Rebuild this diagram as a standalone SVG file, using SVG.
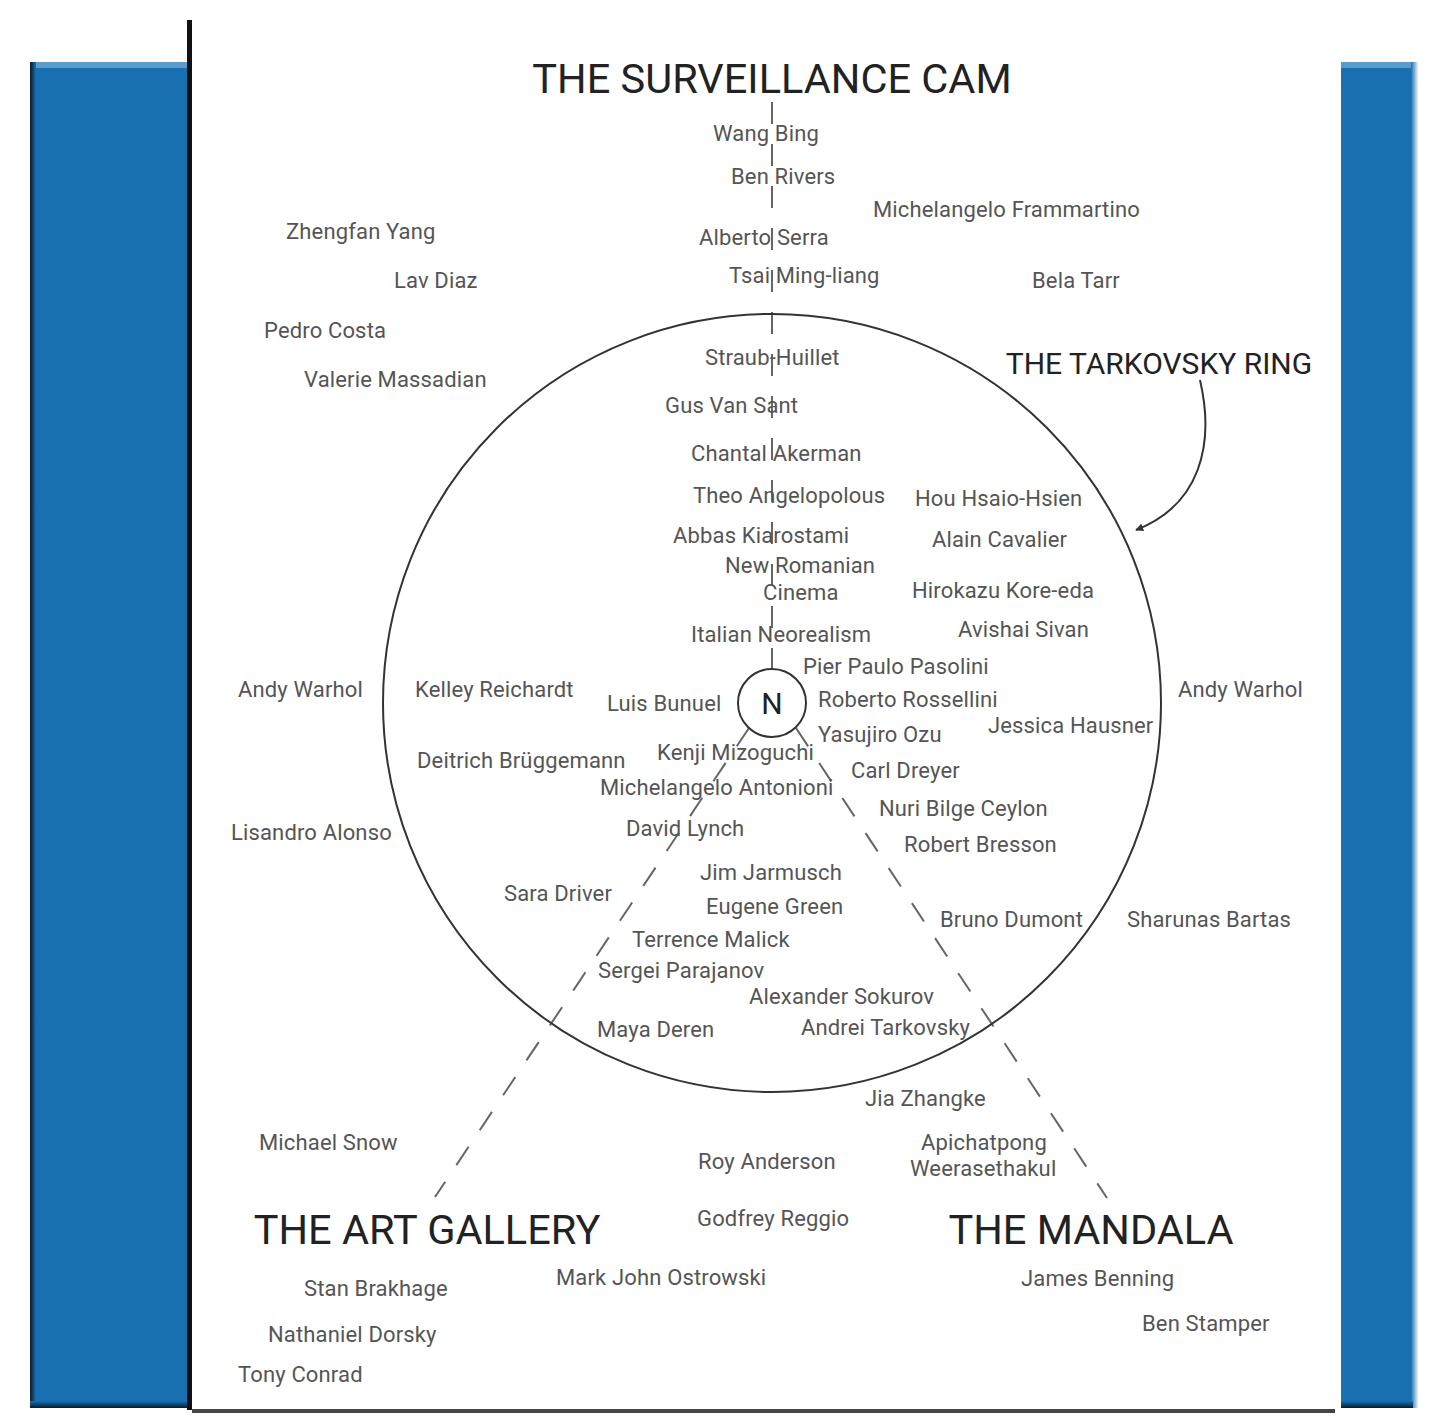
<svg xmlns="http://www.w3.org/2000/svg" width="1456" height="1425" viewBox="0 0 1456 1425">
<defs>
<style>
.t{font-family:Roboto,"Liberation Sans",sans-serif;font-size:22px;letter-spacing:0.15px;fill:#555}
.h{font-family:Roboto,"Liberation Sans",sans-serif;font-size:41.5px;fill:#222}
.h2{font-family:Roboto,"Liberation Sans",sans-serif;font-size:30px;fill:#222}
.dash{stroke:#666;stroke-width:2;fill:none;stroke-dasharray:22 20}
</style>
<linearGradient id="ldark" x1="0" x2="1" y1="0" y2="0"><stop offset="0" stop-color="#0a1a2a"/><stop offset="1" stop-color="#1870b0"/></linearGradient>
<linearGradient id="rlight" x1="0" x2="1" y1="0" y2="0"><stop offset="0" stop-color="#1870b0"/><stop offset="1" stop-color="#e8f2fa"/></linearGradient>
<linearGradient id="bdark" x1="0" x2="0" y1="0" y2="1"><stop offset="0" stop-color="#1870b0"/><stop offset="1" stop-color="#0a1a2a"/></linearGradient>
<marker id="arr" viewBox="0 0 10 10" refX="9" refY="5" markerWidth="8" markerHeight="8" orient="auto" markerUnits="userSpaceOnUse"><path d="M0,0 L10,5 L0,10 z" fill="#333"/></marker>
</defs>
<rect width="1456" height="1425" fill="#fff"/>
<g id="panels">
<rect x="30" y="62" width="162" height="1346" fill="#1870b0"/>
<rect x="30" y="62" width="6" height="1346" fill="url(#ldark)"/>
<rect x="36" y="62" width="156" height="6" fill="#5a9ccc"/>
<rect x="30" y="1401" width="162" height="7" fill="url(#bdark)"/>
<rect x="1341" y="62" width="77" height="1346" fill="#1870b0"/>
<rect x="1341" y="62" width="72" height="6" fill="#5a9ccc"/>
<rect x="1411" y="62" width="7" height="1346" fill="url(#rlight)"/>
<rect x="1341" y="1401" width="72" height="7" fill="url(#bdark)"/>
<rect x="190" y="18" width="1150" height="1393" fill="#fff"/>
<rect x="187" y="20" width="5" height="1390" fill="#111"/>
<rect x="192" y="1409" width="1143" height="4" fill="#444"/>
</g>
<g id="connectors">
<line class="dash" x1="772" y1="102" x2="772" y2="669"/>
<line class="dash" x1="749" y1="728" x2="435" y2="1197"/>
<line class="dash" x1="796" y1="728" x2="1107" y2="1198"/>
<path d="M1200,380 C1215,445 1200,505 1136,530" fill="none" stroke="#333" stroke-width="2" marker-end="url(#arr)"/>
</g>
<g id="ring"><circle cx="772" cy="703" r="389" fill="none" stroke="#333" stroke-width="2"/></g>
<g id="n-node"><circle cx="772" cy="703" r="34" fill="#fff" stroke="#333" stroke-width="2"/><text x="772" y="714" text-anchor="middle" style="font-family:Roboto,'Liberation Sans',sans-serif;font-size:30px;fill:#222">N</text></g>
<g id="titles">
<text class="h" x="772" y="93" text-anchor="middle">THE SURVEILLANCE CAM</text>
<text class="h2" x="1159" y="374" text-anchor="middle">THE TARKOVSKY RING</text>
<text class="h" x="427" y="1244" text-anchor="middle">THE ART GALLERY</text>
<text class="h" x="1091" y="1244" text-anchor="middle">THE MANDALA</text>
</g>
<g id="names">
<text class="t" x="713" y="141">Wang Bing</text>
<text class="t" x="731" y="184">Ben Rivers</text>
<text class="t" x="873" y="217">Michelangelo Frammartino</text>
<text class="t" x="286" y="239">Zhengfan Yang</text>
<text class="t" x="699" y="245">Alberto Serra</text>
<text class="t" x="729" y="283">Tsai Ming-liang</text>
<text class="t" x="394" y="288">Lav Diaz</text>
<text class="t" x="1032" y="288">Bela Tarr</text>
<text class="t" x="264" y="338">Pedro Costa</text>
<text class="t" x="705" y="365">Straub-Huillet</text>
<text class="t" x="304" y="387">Valerie Massadian</text>
<text class="t" x="665" y="413">Gus Van Sant</text>
<text class="t" x="691" y="461">Chantal Akerman</text>
<text class="t" x="693" y="503">Theo Angelopolous</text>
<text class="t" x="915" y="506">Hou Hsaio-Hsien</text>
<text class="t" x="673" y="543">Abbas Kiarostami</text>
<text class="t" x="932" y="547">Alain Cavalier</text>
<text class="t" x="725" y="573">New Romanian</text>
<text class="t" x="763" y="600">Cinema</text>
<text class="t" x="912" y="598">Hirokazu Kore-eda</text>
<text class="t" x="958" y="637">Avishai Sivan</text>
<text class="t" x="691" y="642">Italian Neorealism</text>
<text class="t" x="803" y="674">Pier Paulo Pasolini</text>
<text class="t" x="238" y="697">Andy Warhol</text>
<text class="t" x="415" y="697">Kelley Reichardt</text>
<text class="t" x="1178" y="697">Andy Warhol</text>
<text class="t" x="818" y="707">Roberto Rossellini</text>
<text class="t" x="607" y="711">Luis Bunuel</text>
<text class="t" x="988" y="733">Jessica Hausner</text>
<text class="t" x="818" y="742">Yasujiro Ozu</text>
<text class="t" x="657" y="760">Kenji Mizoguchi</text>
<text class="t" x="417" y="768">Deitrich Brüggemann</text>
<text class="t" x="851" y="778">Carl Dreyer</text>
<text class="t" x="600" y="795">Michelangelo Antonioni</text>
<text class="t" x="879" y="816">Nuri Bilge Ceylon</text>
<text class="t" x="626" y="836">David Lynch</text>
<text class="t" x="231" y="840">Lisandro Alonso</text>
<text class="t" x="904" y="852">Robert Bresson</text>
<text class="t" x="700" y="880">Jim Jarmusch</text>
<text class="t" x="504" y="901">Sara Driver</text>
<text class="t" x="706" y="914">Eugene Green</text>
<text class="t" x="940" y="927">Bruno Dumont</text>
<text class="t" x="1127" y="927">Sharunas Bartas</text>
<text class="t" x="632" y="947">Terrence Malick</text>
<text class="t" x="598" y="978">Sergei Parajanov</text>
<text class="t" x="749" y="1004">Alexander Sokurov</text>
<text class="t" x="801" y="1035">Andrei Tarkovsky</text>
<text class="t" x="597" y="1037">Maya Deren</text>
<text class="t" x="865" y="1106">Jia Zhangke</text>
<text class="t" x="259" y="1150">Michael Snow</text>
<text class="t" x="921" y="1150">Apichatpong</text>
<text class="t" x="698" y="1169">Roy Anderson</text>
<text class="t" x="910" y="1176">Weerasethakul</text>
<text class="t" x="697" y="1226">Godfrey Reggio</text>
<text class="t" x="556" y="1285">Mark John Ostrowski</text>
<text class="t" x="1021" y="1286">James Benning</text>
<text class="t" x="304" y="1296">Stan Brakhage</text>
<text class="t" x="1142" y="1331">Ben Stamper</text>
<text class="t" x="268" y="1342">Nathaniel Dorsky</text>
<text class="t" x="238" y="1382">Tony Conrad</text>
</g>
</svg>
